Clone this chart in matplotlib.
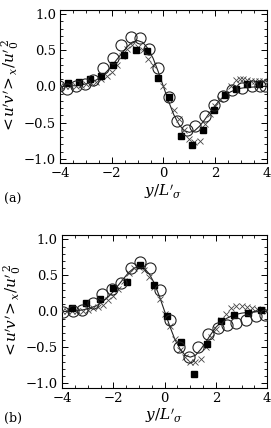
import matplotlib
matplotlib.use("Agg")
import matplotlib.pyplot as plt
from matplotlib.ticker import MultipleLocator

plt.rcParams['font.family'] = ['DejaVu Serif']
plt.rcParams['mathtext.fontset'] = 'dejavuserif'

# solid model curve (same y grid for both panels)
curve_y = [-4.0, -3.8, -3.6, -3.4, -3.2, -3.0, -2.8, -2.6, -2.4, -2.2, -2.0,
           -1.8, -1.6, -1.4, -1.2, -1.0, -0.8, -0.6, -0.4, -0.2, 0.0,
           0.2, 0.4, 0.6, 0.8, 1.0, 1.2, 1.4, 1.6, 1.8, 2.0,
           2.2, 2.4, 2.6, 2.8, 3.0, 3.2, 3.4, 3.6, 3.8, 4.0]
curve_a = [0.0, 0.0, 0.01, 0.01, 0.02, 0.035, 0.06, 0.09, 0.14, 0.205, 0.285,
           0.375, 0.465, 0.55, 0.615, 0.635, 0.61, 0.525, 0.39, 0.205, 0.0,
           -0.205, -0.39, -0.525, -0.61, -0.635, -0.615, -0.55, -0.46, -0.36, -0.265,
           -0.185, -0.12, -0.075, -0.045, -0.025, -0.015, -0.01, -0.005, 0.0, 0.0]
curve_b = [0.0, 0.0, 0.01, 0.01, 0.02, 0.035, 0.06, 0.09, 0.14, 0.2, 0.275,
           0.365, 0.455, 0.54, 0.6, 0.62, 0.6, 0.52, 0.39, 0.205, 0.0,
           -0.205, -0.39, -0.52, -0.61, -0.635, -0.61, -0.53, -0.43, -0.32, -0.22,
           -0.15, -0.1, -0.065, -0.04, -0.025, -0.015, -0.01, -0.005, 0.0, 0.0]

# panel (a) data
circ_a_x = [-4.03, -3.73, -3.37, -3.05, -2.72, -2.33, -1.97, -1.63, -1.24, -0.89, -0.54, -0.2,
            0.2, 0.51, 0.92, 1.24, 1.6, 1.95, 2.31, 2.64, 3.03, 3.42, 3.75, 3.95]
circ_a_v = [0.0, -0.03, 0.01, 0.03, 0.09, 0.25, 0.39, 0.57, 0.69, 0.67, 0.52, 0.25,
            -0.14, -0.48, -0.6, -0.55, -0.41, -0.26, -0.13, -0.05, -0.02, 0.0, 0.0, 0.0]
sq_a_x = [-3.7, -3.27, -2.84, -2.4, -1.97, -1.52, -1.06, -0.65, -0.22, 0.21,
          0.67, 1.1, 1.52, 1.95, 2.39, 2.82, 3.25, 3.69]
sq_a_v = [0.05, 0.06, 0.11, 0.15, 0.29, 0.44, 0.5, 0.49, 0.12, -0.14,
          -0.69, -0.81, -0.6, -0.33, -0.12, -0.03, 0.03, 0.04]
x_a_x = [-4.0, -3.8, -3.6, -3.4, -3.2, -3.0, -2.8, -2.6, -2.4, -2.2, -2.0, -1.8, -1.6, -1.4,
         -1.2, -1.0, -0.8, -0.6, -0.4, -0.2, 0.0, 0.2, 0.4, 0.6, 0.8, 1.0, 1.2, 1.4, 1.6,
         1.8, 2.0, 2.2, 2.4, 2.6, 2.8, 2.95, 3.1, 3.25, 3.4, 3.55, 3.7, 3.85, 4.0]
x_a_v = [0.0, 0.0, 0.01, 0.01, 0.02, 0.03, 0.05, 0.06, 0.1, 0.15, 0.2, 0.3, 0.42, 0.52,
         0.58, 0.55, 0.5, 0.38, 0.3, 0.12, 0.0, -0.17, -0.32, -0.45, -0.6, -0.73, -0.77, -0.75, -0.52,
         -0.38, -0.27, -0.18, -0.1, 0.0, 0.09, 0.1, 0.1, 0.09, 0.08, 0.08, 0.07, 0.07, 0.06]

# panel (b) data
circ_b_x = [-3.95, -3.58, -3.21, -2.8, -2.44, -2.06, -1.7, -1.32, -0.96, -0.57, -0.18,
            0.2, 0.55, 0.95, 1.31, 1.69, 2.07, 2.44, 2.8, 3.16, 3.55, 3.9]
circ_b_v = [-0.01, 0.0, 0.02, 0.12, 0.24, 0.31, 0.4, 0.6, 0.69, 0.6, 0.29,
            -0.12, -0.5, -0.63, -0.5, -0.32, -0.23, -0.19, -0.16, -0.12, -0.06, -0.05]
sq_b_x = [-3.6, -3.05, -2.53, -2.0, -1.47, -0.95, -0.42, 0.1, 0.62, 1.14,
          1.67, 2.18, 2.72, 3.25, 3.77]
sq_b_v = [0.04, 0.12, 0.17, 0.32, 0.41, 0.65, 0.37, -0.07, -0.42, -0.87,
          -0.45, -0.13, -0.05, -0.02, 0.02]
x_b_x = [-4.0, -3.8, -3.6, -3.4, -3.2, -3.0, -2.8, -2.6, -2.4, -2.2, -2.0, -1.8, -1.6, -1.4,
         -1.2, -1.0, -0.8, -0.6, -0.4, -0.2, 0.0, 0.2, 0.4, 0.6, 0.8, 1.0, 1.2, 1.4, 1.6,
         1.8, 2.0, 2.2, 2.4, 2.6, 2.8, 3.0, 3.2, 3.4, 3.6, 3.8, 4.0]
x_b_v = [0.0, 0.0, 0.0, 0.01, 0.01, 0.02, 0.04, 0.06, 0.09, 0.16, 0.22, 0.31, 0.42, 0.53,
         0.6, 0.62, 0.58, 0.48, 0.34, 0.17, -0.03, -0.2, -0.38, -0.53, -0.64, -0.7, -0.7, -0.66, -0.5,
         -0.36, -0.24, -0.12, -0.03, 0.04, 0.07, 0.07, 0.06, 0.04, 0.03, 0.02, 0.01]

fig = plt.figure(figsize=(2.71, 4.28), dpi=100)
ax_a = fig.add_axes([0.222, 0.619, 0.762, 0.358])
ax_b = fig.add_axes([0.229, 0.094, 0.757, 0.357])

panels = [
    (ax_a, curve_a, circ_a_x, circ_a_v, sq_a_x, sq_a_v, x_a_x, x_a_v),
    (ax_b, curve_b, circ_b_x, circ_b_v, sq_b_x, sq_b_v, x_b_x, x_b_v),
]

for ax, cv, cx, cy, sx, sy, xx, xy in panels:
    ax.plot(curve_y, cv, color='#222222', lw=0.8, zorder=2)
    ax.plot(xx, xy, ls='none', marker='x', ms=4, mew=0.6, color='#444444', zorder=3)
    ax.plot(sx, sy, ls='none', marker='s', ms=4.2, color='black', zorder=4)
    ax.plot(cx, cy, ls='none', marker='o', ms=8, mfc='none', mec='#222222', mew=0.8, zorder=5)
    ax.set_xlim(-4, 4)
    ax.set_ylim(-1.06, 1.06)
    ax.xaxis.set_major_locator(MultipleLocator(2))
    ax.xaxis.set_minor_locator(MultipleLocator(0.5))
    ax.yaxis.set_major_locator(MultipleLocator(0.5))
    ax.yaxis.set_minor_locator(MultipleLocator(0.1))
    ax.tick_params(which='both', direction='in', top=True, right=True, labelsize=9.5, pad=3)
    ax.tick_params(which='major', length=4, width=0.7)
    ax.tick_params(which='minor', length=2, width=0.6)
    ax.set_yticks([-1.0, -0.5, 0.0, 0.5, 1.0])
    ax.set_yticklabels(['\u22121.0', '\u22120.5', '0.0', '0.5', '1.0'])
    for s in ax.spines.values():
        s.set_linewidth(0.8)
    ax.set_xlabel(r"$y/L'_\sigma$", fontsize=11, labelpad=1)
    ax.set_ylabel(r"$<\!u'v'\!>_x/u'^{\,2}_0$", fontsize=11, labelpad=2)

fig.text(0.015, 0.533, "(a)", fontsize=9, ha='left', va='center')
fig.text(0.015, 0.022, "(b)", fontsize=9, ha='left', va='center')

plt.savefig("out.png", dpi=100)
